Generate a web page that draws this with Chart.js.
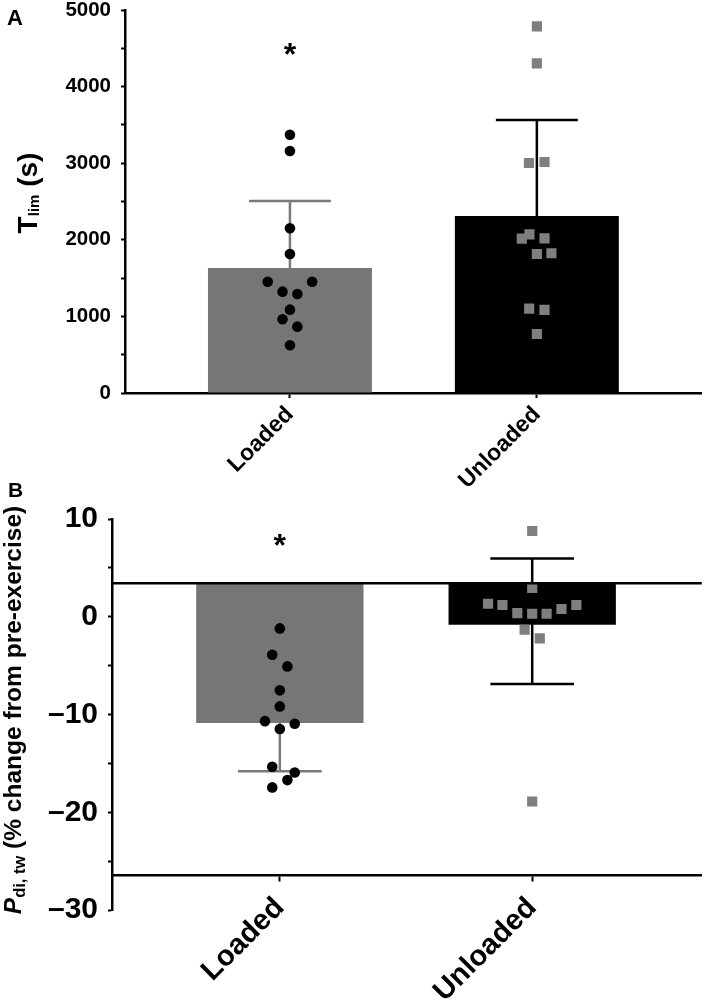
<!DOCTYPE html>
<html>
<head>
<meta charset="utf-8">
<script src="https://cdn.jsdelivr.net/npm/chart.js@4"></script>
<style>
  html, body { margin: 0; padding: 0; background: #fff; }
  canvas { position: absolute; left: 0; }
  #chartA { top: 0; }
  #chartB { top: 470px; }
</style>
</head>
<body>
<canvas id="chartA" width="709" height="490"></canvas>
<canvas id="chartB" width="709" height="532"></canvas>
<script>
const groups = ['Loaded', 'Unloaded'];

// panel A - Tlim (s)
const tlimMean = [1632, 2311];
const tlimErrHigh = [2506, 3564];
const tlimLoaded = [3372, 3159, 2150, 1815, 1453, 1453, 1323, 1292, 1088, 962, 866, 623];
const tlimLoadedJit = [0, 0, 0, 0, -0.09, 0.09, -0.03, 0.03, 0, -0.03, 0.03, 0];
const tlimUnloaded = [4787, 4304, 3003, 3016, 2015, 2071, 2019, 1815, 1824, 1101, 1084, 770];
const tlimUnloadedJit = [0, 0, -0.032, 0.031, -0.061, -0.03, 0.031, 0, 0.059, -0.031, 0.031, 0];
const tlimTicks = [0, 1000, 2000, 3000, 4000, 5000];
const tlimStar = 4491;

// panel B - Pdi,tw (% change from pre-exercise)
const pdiTop = 3.42;      // bars hang from this line
const pdiAxisAt = -26.4;  // where the x axis line sits
const pdiMean = [-10.88, -0.82];
const pdiErrLow = [-15.8, -6.89];
const pdiErrHigh = [null, 5.97];
const pdiLoaded = [-1.19, -3.89, -5.08, -7.53, -9.17, -10.68, -10.95, -11.49, -15.35, -15.93, -16.71, -17.46];
const pdiLoadedJit = [0, -0.03, 0.03, 0, 0, -0.059, 0.059, 0, -0.03, 0.059, 0.03, -0.03];
const pdiUnloaded = [8.77, 2.94, 1.33, 1.2, 0.38, 0.31, 0.31, 0.79, 1.2, -1.33, -2.21, -18.9];
const pdiUnloadedJit = [0, 0, -0.175, -0.118, -0.059, 0, 0.057, 0.116, 0.175, -0.03, 0.03, 0];
const pdiTicks = [-30, -20, -10, 0, 10];
const pdiStar = 7.85;

const FONT = "'Liberation Sans', Arial, Helvetica, sans-serif";
Chart.defaults.font.family = FONT;
Chart.defaults.color = '#000';
Chart.defaults.animation = false;
Chart.defaults.plugins.legend.display = false;
Chart.defaults.plugins.tooltip.enabled = false;

const pts = (vals, jit, idx) => vals.map((v, i) => ({x: idx + jit[i], y: v}));
const dash = v => String(v).replace('-', '\u2013');

// major ticks plus a minor tick halfway between each
const withMinor = list => {
  const out = [];
  list.forEach((v, i) => {
    out.push({value: v, major: true});
    if (i < list.length - 1) out.push({value: (v + list[i + 1]) / 2});
  });
  return out;
};

const extras = {
  id: 'extras',
  afterDatasetDraw(chart, args, o) {
    if (args.meta.type !== 'bar') return;
    const ctx = chart.ctx, y = chart.scales.y;
    ctx.save();
    ctx.lineWidth = 2.5;
    args.meta.data.forEach((bar, i) => {
      const half = bar.width / 4;
      const y0 = y.getPixelForValue(o.mean[i]);
      ctx.strokeStyle = o.errColor[i];
      [o.high ? o.high[i] : null, o.low ? o.low[i] : null].forEach(v => {
        if (v == null) return;
        const py = y.getPixelForValue(v);
        ctx.beginPath();
        ctx.moveTo(bar.x, y0); ctx.lineTo(bar.x, py);
        ctx.moveTo(bar.x - half, py); ctx.lineTo(bar.x + half, py);
        ctx.stroke();
      });
    });
    ctx.restore();
  },
  afterDraw(chart, args, o) {
    const {ctx, chartArea, scales: {x, y}} = chart;
    ctx.save();
    if (o.topLine != null) {
      const py = y.getPixelForValue(o.topLine);
      ctx.strokeStyle = '#000';
      ctx.lineWidth = 2.5;
      ctx.beginPath(); ctx.moveTo(chartArea.left, py); ctx.lineTo(chartArea.right, py); ctx.stroke();
    }
    ctx.fillStyle = '#000';
    // asterisk
    ctx.font = 'bold ' + o.star.size + 'px ' + FONT;
    ctx.textAlign = 'center';
    ctx.textBaseline = 'alphabetic';
    const m = ctx.measureText('*');
    const cy = y.getPixelForValue(o.star.y);
    ctx.fillText('*', x.getPixelForValue(o.star.x), cy + (m.actualBoundingBoxAscent - m.actualBoundingBoxDescent) / 2);
    // panel letter
    ctx.textAlign = 'left';
    ctx.font = 'bold ' + o.letter.size + 'px ' + FONT;
    ctx.fillText(o.letter.text, o.letter.x, o.letter.y);
    // rotated y title with subscript
    let total = 0;
    o.title.parts.forEach(p => { ctx.font = p.font + ' ' + FONT; p.w = ctx.measureText(p.t).width; total += p.w; });
    ctx.translate(o.title.x, o.title.y);
    ctx.rotate(-Math.PI / 2);
    let tx = -total / 2;
    o.title.parts.forEach(p => {
      ctx.font = p.font + ' ' + FONT;
      ctx.fillText(p.t, tx, p.dy);
      tx += p.w;
    });
    ctx.restore();
  }
};

const axisLine = {color: '#000', width: 2.5};
const tickMarks = {drawOnChartArea: false, offset: false, tickLength: 5, tickWidth: 2, tickColor: '#000'};
const noPad = s => { s.paddingTop = 0; s.paddingBottom = 0; };

new Chart(document.getElementById('chartA'), {
  type: 'bar',
  data: {
    datasets: [
      {type: 'scatter', order: 1, data: pts(tlimLoaded, tlimLoadedJit, 0),
        pointStyle: 'circle', pointRadius: 5.3, backgroundColor: '#000', borderWidth: 0},
      {type: 'scatter', order: 1, data: pts(tlimUnloaded, tlimUnloadedJit, 1),
        pointStyle: 'rect', pointRadius: 7.2, backgroundColor: '#7f7f7f', borderWidth: 0},
      {type: 'bar', order: 2, data: tlimMean.map((v, i) => ({x: i, y: v})),
        backgroundColor: ['#767676', '#000'], borderWidth: 0,
        categoryPercentage: 1, barPercentage: 0.664}
    ]
  },
  options: {
    responsive: false,
    layout: {padding: {top: 10, right: 7, left: 0, bottom: 0}},
    scales: {
      x: {
        type: 'linear', min: -0.668, max: 1.668, offset: false,
        afterBuildTicks: s => { s.ticks = groups.map((g, i) => ({value: i})); },
        afterFit: s => { s.height = 97; },
        ticks: {callback: v => groups[v], autoSkip: false, minRotation: 45, maxRotation: 45,
          padding: 3, font: {size: 23, weight: 'bold'}},
        grid: tickMarks,
        border: axisLine
      },
      y: {
        min: 0, max: 5000,
        afterBuildTicks: s => { s.ticks = withMinor(tlimTicks); },
        afterFit: s => { s.width = 125; noPad(s); },
        ticks: {autoSkip: false, callback: v => tlimTicks.includes(v) ? v : '', padding: 10,
          font: {size: 20.5, weight: 'bold', lineHeight: 1}},
        grid: {drawOnChartArea: false, tickLength: 4, tickWidth: 2, tickColor: '#000'},
        border: axisLine
      }
    },
    plugins: {
      extras: {
        mean: tlimMean, high: tlimErrHigh, low: null, errColor: ['#7a7a7a', '#000'],
        star: {x: 0, y: tlimStar, size: 32},
        letter: {text: 'A', x: 7, y: 25, size: 22},
        title: {x: 37, y: 193, parts: [
          {t: 'T', font: 'bold 28px', dy: 0},
          {t: 'lim', font: 'bold 15px', dy: 2},
          {t: ' (s)', font: 'bold 28px', dy: 0}
        ]}
      }
    }
  },
  plugins: [extras]
});

new Chart(document.getElementById('chartB'), {
  type: 'bar',
  data: {
    datasets: [
      {type: 'scatter', order: 1, data: pts(pdiLoaded, pdiLoadedJit, 0),
        pointStyle: 'circle', pointRadius: 5.3, backgroundColor: '#000', borderWidth: 0},
      {type: 'scatter', order: 1, data: pts(pdiUnloaded, pdiUnloadedJit, 1),
        pointStyle: 'rect', pointRadius: 7.2, backgroundColor: '#7f7f7f', borderWidth: 0},
      {type: 'bar', order: 2, data: pdiMean.map((v, i) => ({x: i, y: [pdiTop, v]})),
        backgroundColor: ['#767676', '#000'], borderWidth: 0,
        categoryPercentage: 1, barPercentage: 0.663}
    ]
  },
  options: {
    responsive: false,
    layout: {padding: {top: 49, right: 1, left: 0, bottom: 92}},
    scales: {
      x: {
        type: 'linear', min: -0.665, max: 1.672, offset: false,
        position: {y: pdiAxisAt},
        afterBuildTicks: s => { s.ticks = groups.map((g, i) => ({value: i})); },
        ticks: {callback: v => groups[v], autoSkip: false, minRotation: 45, maxRotation: 45,
          padding: 11, font: {size: 29, weight: 'bold'}},
        grid: tickMarks,
        border: axisLine
      },
      y: {
        min: -30, max: 10,
        afterBuildTicks: s => { s.ticks = withMinor(pdiTicks); },
        afterFit: s => { s.width = 112; },
        ticks: {autoSkip: false, callback: v => pdiTicks.includes(v) ? dash(v) : '', padding: 10,
          font: {size: 30, weight: 'bold', lineHeight: 1}},
        grid: {drawOnChartArea: false, tickLength: 4, tickWidth: 2, tickColor: '#000'},
        border: axisLine
      }
    },
    plugins: {
      extras: {
        mean: pdiMean, high: pdiErrHigh, low: pdiErrLow, errColor: ['#7a7a7a', '#000'],
        topLine: pdiTop,
        star: {x: 0, y: pdiStar, size: 32},
        letter: {text: 'B', x: 8, y: 27, size: 21},
        title: {x: 21, y: 240, parts: [
          {t: 'P', font: 'italic bold 24.5px', dy: 0},
          {t: 'di, tw', font: 'bold 16.5px', dy: 4},
          {t: ' (% change from pre-exercise)', font: 'bold 24.5px', dy: 0}
        ]}
      }
    }
  },
  plugins: [extras]
});
</script>
</body>
</html>
